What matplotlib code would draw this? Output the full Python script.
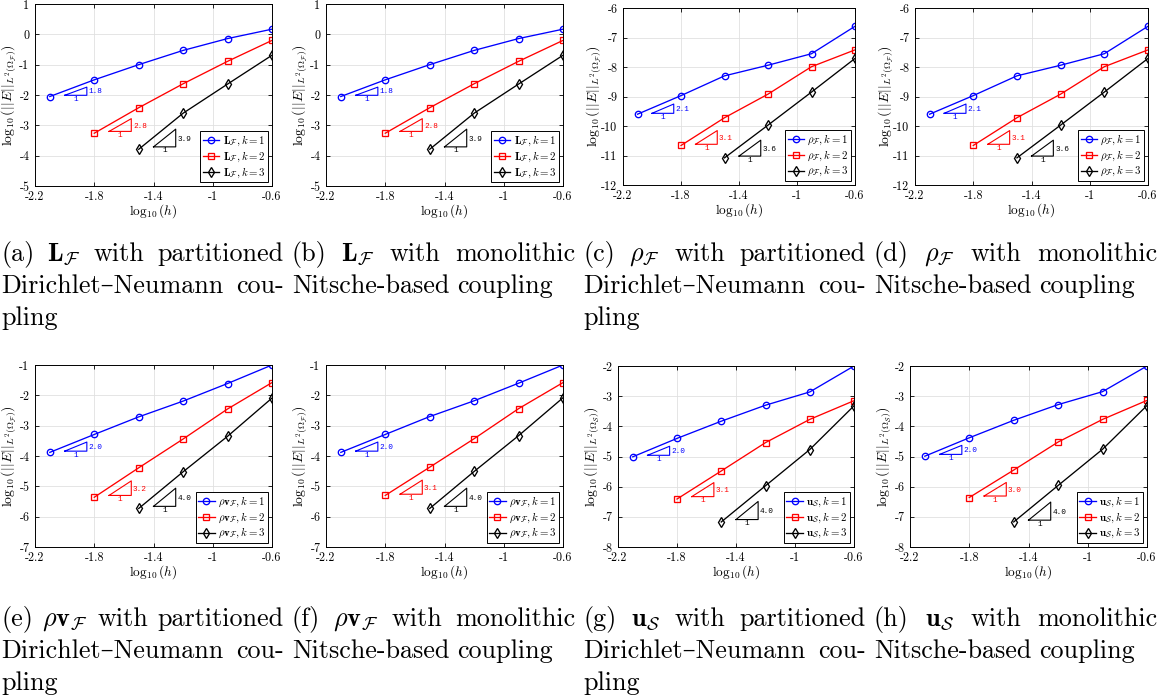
import matplotlib
matplotlib.use("Agg")
import matplotlib.pyplot as plt

plt.rcParams["mathtext.fontset"] = "cm"
plt.rcParams["axes.unicode_minus"] = False

W, H = 1168, 697

# ── data ─────────────────────────────────────────────────────────────────────
X = [-2.1, -1.8, -1.5, -1.2, -0.9, -0.6]
XTICKS = [-2.2, -1.8, -1.4, -1.0, -0.6]
XTICKLABELS = ["-2.2", "-1.8", "-1.4", "-1", "-0.6"]

A_K1 = [-2.05, -1.50, -1.00, -0.53, -0.14, 0.17]
A_K2 = [-3.26, -2.42, -1.63, -0.89, -0.20]
A_K3 = [-3.79, -2.60, -1.64, -0.69]
B_K1 = [-2.05, -1.50, -1.00, -0.53, -0.14, 0.17]
B_K2 = [-3.26, -2.42, -1.63, -0.89, -0.20]
B_K3 = [-3.79, -2.60, -1.64, -0.69]
C_K1 = [-9.60, -8.97, -8.30, -7.94, -7.55, -6.62]
C_K2 = [-10.66, -9.72, -8.92, -7.99, -7.42]
C_K3 = [-11.08, -9.97, -8.85, -7.71]
D_K1 = [-9.60, -8.97, -8.30, -7.94, -7.55, -6.62]
D_K2 = [-10.66, -9.72, -8.92, -7.99, -7.42]
D_K3 = [-11.08, -9.97, -8.85, -7.71]
E_K1 = [-3.88, -3.29, -2.71, -2.19, -1.61, -1.00]
E_K2 = [-5.36, -4.39, -3.44, -2.45, -1.58]
E_K3 = [-5.73, -4.52, -3.35, -2.09]
F_K1 = [-3.88, -3.29, -2.70, -2.18, -1.60, -1.00]
F_K2 = [-5.30, -4.37, -3.43, -2.44, -1.58]
F_K3 = [-5.73, -4.51, -3.33, -2.08]
G_K1 = [-5.01, -4.40, -3.83, -3.30, -2.86, -2.00]
G_K2 = [-6.41, -5.48, -4.54, -3.77, -3.15]
G_K3 = [-7.17, -5.97, -4.77, -3.32]
H_K1 = [-4.99, -4.38, -3.80, -3.28, -2.85, -2.00]
H_K2 = [-6.36, -5.45, -4.52, -3.77, -3.14]
H_K3 = [-7.17, -5.96, -4.76, -3.31]

SLOPES_A = [1.8, 2.8, 3.9]
SLOPES_C = [2.1, 3.1, 3.6]
SLOPES_E = [2.0, 3.2, 4.0]
SLOPES_F = [2.0, 3.1, 4.0]
SLOPES_G = [2.0, 3.1, 4.0]
SLOPES_H = [2.0, 3.0, 4.0]

# ── styles / layout ──────────────────────────────────────────────────────────
COLORS = ["#0000ff", "#ff0000", "#000000"]
MARKERS = ["o", "s", "d"]
TRI_X0 = [-2.0, -1.7, -1.4]
TRI_DX = 0.15

fig = plt.figure(figsize=(W / 100, H / 100), dpi=100)
fig.patch.set_facecolor("white")


def px_axes(l, t, r, b):
    return fig.add_axes([l / W, 1 - b / H, (r - l) / W, (b - t) / H])


def panel(rect, series, ylim, sub, sym, slopes, tri_y, ylab_x):
    ax = px_axes(*rect)
    for i, ys in enumerate(series):
        ax.plot(X[i:], ys, color=COLORS[i], marker=MARKERS[i], ms=4.6,
                mew=0.95, mfc="none", lw=0.95, label=sym % (i + 1))
    for i, s in enumerate(slopes):
        x0, x1, y0 = TRI_X0[i], TRI_X0[i] + TRI_DX, tri_y[i]
        h = s * TRI_DX
        ax.plot([x0, x1, x1, x0], [y0, y0, y0 + h, y0], color=COLORS[i], lw=0.8)
        ax.text(x1 + 0.012, y0 + 0.42 * h, "%.1f" % s, color=COLORS[i],
                fontsize=5.6, family="Liberation Mono", ha="left", va="center")
        ax.annotate("1", xy=((x0 + x1) / 2, y0), xytext=(0, -4),
                    textcoords="offset pixels", color=COLORS[i], fontsize=5.6,
                    family="Liberation Mono", ha="center", va="center")
    ax.set_xlim(-2.2, -0.6)
    ax.set_ylim(*ylim)
    ax.set_xticks(XTICKS)
    ax.set_xticklabels(XTICKLABELS, fontfamily="cmr10", fontsize=8.7)
    yt = list(range(ylim[0], ylim[1] + 1))
    ax.set_yticks(yt)
    ax.set_yticklabels([str(v) for v in yt], fontfamily="cmr10", fontsize=8.7)
    ax.grid(True, color="#e0e0e0", lw=0.6)
    ax.set_axisbelow(True)
    ax.tick_params(direction="in", length=3, width=0.6, top=True, right=True)
    ax.tick_params(axis="x", pad=3.5)
    ax.tick_params(axis="y", pad=4)
    for sp in ax.spines.values():
        sp.set_linewidth(0.7)
    ax.set_xlabel(r"$\log_{10}(h)$", fontsize=9.6)
    ax.xaxis.label.set_va("center")
    ax.xaxis.set_label_coords(0.5, -25.5 / (rect[3] - rect[1]))
    ax.set_ylabel(r"$\log_{10}(||E||_{L^2(\Omega_{\mathcal{%s}})})$" % sub, fontsize=10)
    ax.yaxis.label.set_va("center")
    ax.yaxis.set_label_coords(ylab_x, 0.5)
    leg = ax.legend(loc="lower right", fontsize=7.8, handlelength=1.5,
                    borderpad=0.25, labelspacing=0.12, handletextpad=0.3,
                    borderaxespad=0.35, fancybox=False, framealpha=1)
    leg.get_frame().set_edgecolor("black")
    leg.get_frame().set_linewidth(0.7)
    return ax


L_SYM = r"$\mathbf{L}_{\mathcal{F}}, k = %d$"
R_SYM = r"$\rho_{\mathcal{F}}, k = %d$"
V_SYM = r"$\rho\mathbf{v}_{\mathcal{F}}, k = %d$"
U_SYM = r"$\mathbf{u}_{\mathcal{S}}, k = %d$"

panel((35, 4, 272, 186), [A_K1, A_K2, A_K3], (-5, 1), "F", L_SYM, SLOPES_A,
      [-2.01, -3.20, -3.71], -0.11)
panel((326, 4, 563, 186), [B_K1, B_K2, B_K3], (-5, 1), "F", L_SYM, SLOPES_A,
      [-2.01, -3.20, -3.71], -0.11)
panel((623, 8, 855, 185), [C_K1, C_K2, C_K3], (-12, -6), "F", R_SYM, SLOPES_C,
      [-9.57, -10.62, -11.02], -0.125)
panel((915, 8, 1148, 185), [D_K1, D_K2, D_K3], (-12, -6), "F", R_SYM, SLOPES_C,
      [-9.57, -10.62, -11.02], -0.125)
panel((35, 365, 272, 547), [E_K1, E_K2, E_K3], (-7, -1), "F", V_SYM, SLOPES_E,
      [-3.84, -5.30, -5.66], -0.11)
panel((326, 365, 563, 547), [F_K1, F_K2, F_K3], (-7, -1), "F", V_SYM, SLOPES_F,
      [-3.84, -5.26, -5.66], -0.11)
panel((618, 366, 854, 547), [G_K1, G_K2, G_K3], (-8, -2), "S", U_SYM, SLOPES_G,
      [-4.96, -6.33, -7.09], -0.11)
panel((910, 366, 1147, 547), [H_K1, H_K2, H_K3], (-8, -2), "S", U_SYM, SLOPES_H,
      [-4.93, -6.31, -7.11], -0.11)

# ── justified captions ───────────────────────────────────────────────────────
CAP_FAMILY = ["cmr10", "DejaVu Serif"]
CAP_W = 283
renderer = fig.canvas.get_renderer()

# size the caption font so "Nitsche-based coupling" is ~262 px wide, as in the paper
probe = fig.text(0, 0, "Nitsche-based coupling", fontsize=20, family=CAP_FAMILY)
CAP_FS = 20 * 262 / probe.get_window_extent(renderer).width
probe.remove()


def caption(left, ytop, lines, lh=32):
    for j, (toks, just) in enumerate(lines):
        y = 1 - (ytop + j * lh) / H
        objs = [fig.text(0, y, tk, fontsize=CAP_FS, family=CAP_FAMILY,
                         ha="left", va="baseline") for tk in toks]
        ws = [o.get_window_extent(renderer).width for o in objs]
        if just and len(objs) > 1:
            gap = (CAP_W - sum(ws)) / (len(objs) - 1)
        else:
            gap = CAP_FS * 100 / 72 * 0.3
        x = left
        for o, w in zip(objs, ws):
            o.set_x(x / W)
            x += w + gap


LF = r"$\mathbf{L}_{\mathcal{F}}$"
RF = r"$\rho_{\mathcal{F}}$"
VF = r"$\rho\mathbf{v}_{\mathcal{F}}$"
US = r"$\mathbf{u}_{\mathcal{S}}$"


def part(tag, sym):
    return [([tag, sym, "with", "partitioned"], True),
            (["Dirichlet–Neumann", "cou-"], True),
            (["pling"], False)]


def mono(tag, sym):
    return [([tag, sym, "with", "monolithic"], True),
            (["Nitsche-based", "coupling"], False)]


LEFTS = [1, 292, 583, 874]
caption(LEFTS[0], 261, part("(a)", LF))
caption(LEFTS[1], 261, mono("(b)", LF))
caption(LEFTS[2], 261, part("(c)", RF))
caption(LEFTS[3], 261, mono("(d)", RF))
caption(LEFTS[0], 626, part("(e)", VF))
caption(LEFTS[1], 626, mono("(f)", VF))
caption(LEFTS[2], 626, part("(g)", US))
caption(LEFTS[3], 626, mono("(h)", US))

fig.savefig("out.png", dpi=100, facecolor="white")
